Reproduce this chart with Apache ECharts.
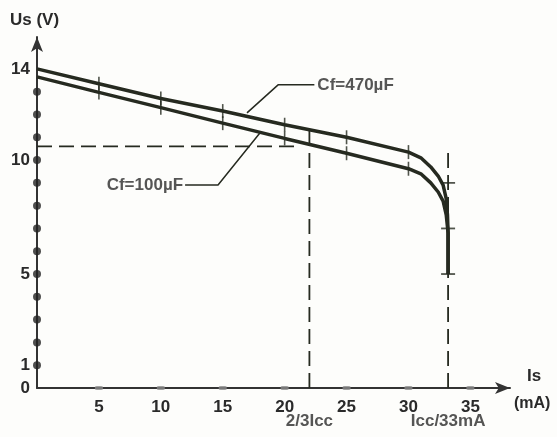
<!DOCTYPE html>
<html><head><meta charset="utf-8">
<script src="https://cdn.jsdelivr.net/npm/echarts/dist/echarts.min.js"></script>
<style>html,body{margin:0;padding:0;background:#fdfdfb}#c{width:557px;height:437px}</style>
</head><body><div id="c"></div>
<script>
// ---- data ----
const xTickLabels = [5, 10, 15, 20, 25, 30, 35];
const yTickLabels = [0, 1, 5, 10, 14];
const yDots = [1, 2, 3, 4, 5, 6, 7, 8, 9, 10, 11, 12, 13];
const cf470X = [0, 5, 10, 15, 20, 25, 30, 31, 31.8, 32.4, 32.8, 33.05, 33.15, 33.2, 33.2];
const cf470Y = [14.0, 13.35, 12.7, 12.15, 11.55, 11.0, 10.35, 10.1, 9.7, 9.3, 8.9, 8.3, 7.6, 6.8, 5.0];
const cf100X = [0, 5, 10, 15, 20, 25, 30, 31, 31.8, 32.4, 32.8, 33.05, 33.2, 33.2];
const cf100Y = [13.65, 12.97, 12.3, 11.62, 10.95, 10.3, 9.62, 9.4, 9.0, 8.6, 8.2, 7.6, 6.8, 5.0];
const curveTickX = [5, 10, 15, 20, 25, 30];
const iccX = 33.2;
const twoThirdIccX = 22;
const kneeLevel = 10.6;
const iccTicksY = [9, 7, 5];
const label470 = 'Cf=470µF';
const label100 = 'Cf=100µF';
const leader470 = [[16.96, 12.07], [19.47, 13.3], [22.4, 13.3]];
const leader100 = [[18.0, 11.19], [14.62, 8.91], [11.96, 8.91]];

const INK = '#262a20';
const TXT = '#2a2a2a';
const FONT = 'Liberation Sans, Arial, sans-serif';
const pairs = (xs, ys) => xs.map((x, i) => [x, ys[i]]);
const c470 = pairs(cf470X, cf470Y);
const c100 = pairs(cf100X, cf100Y);
const ticks470 = curveTickX.map(x => [x, cf470Y[cf470X.indexOf(x)]]);
const ticks100 = curveTickX.map(x => [x, cf100Y[cf100X.indexOf(x)]]);

const chart = echarts.init(document.getElementById('c'), null, {renderer: 'canvas'});
const dashed = {color: INK, width: 1.8, type: [15, 7]};
const txt = {color: TXT, fontSize: 17, fontFamily: FONT, fontWeight: 'bold'};
chart.setOption({
  animation: false,
  backgroundColor: '#fdfdfb',
  grid: {left: 37, right: 47, top: 37, bottom: 49},
  xAxis: {
    type: 'value', min: 0, max: 38.2, interval: 5,
    splitLine: {show: false}, axisTick: {show: false},
    axisLine: {lineStyle: {color: '#333', width: 2}, symbol: ['none', 'arrow'], symbolSize: [9, 15]},
    axisLabel: Object.assign({
      showMaxLabel: false, margin: 11,
      formatter: v => xTickLabels.includes(v) ? String(v) : ''
    }, txt)
  },
  yAxis: {
    type: 'value', min: 0, max: 15.4, interval: 1,
    splitLine: {show: false}, axisTick: {show: false},
    axisLine: {lineStyle: {color: '#333', width: 2}, symbol: ['none', 'arrow'], symbolSize: [9, 15]},
    axisLabel: Object.assign({
      showMaxLabel: false, margin: 7,
      formatter: v => yTickLabels.includes(v) ? String(v) : ''
    }, txt)
  },
  graphic: [
    {type: 'text', left: 10, top: 12, style: {text: 'Us (V)', fontSize: 17, fontWeight: 'bold', fontFamily: FONT, fill: TXT}},
    {type: 'text', left: 527, top: 368, style: {text: 'Is', fontSize: 17, fontWeight: 'bold', fontFamily: FONT, fill: TXT}},
    {type: 'text', left: 514, top: 396, style: {text: '(mA)', fontSize: 16, fontWeight: 'bold', fontFamily: FONT, fill: TXT}}
  ],
  series: [
    {type: 'line', data: [[0, kneeLevel], [21, kneeLevel]], symbol: 'none', lineStyle: dashed, z: 2},
    {type: 'line', data: [[twoThirdIccX, 0], [twoThirdIccX, 11.55]], symbol: 'none', lineStyle: dashed, z: 2},
    {type: 'line', data: [[iccX, 0], [iccX, kneeLevel]], symbol: 'none', lineStyle: dashed, z: 2},
    {type: 'line', data: c470, symbol: 'none', lineStyle: {color: INK, width: 3.5}, z: 3},
    {type: 'line', data: c100, symbol: 'none', lineStyle: {color: INK, width: 3.5}, z: 3},
    {type: 'line', data: leader470, symbol: 'none', lineStyle: {color: INK, width: 1.5}, z: 3},
    {type: 'line', data: leader100, symbol: 'none', lineStyle: {color: INK, width: 1.5}, z: 3},
    {type: 'scatter', data: ticks470.concat(ticks100), symbol: 'rect', symbolSize: [1.6, 14],
     itemStyle: {color: INK}, z: 4},
    {type: 'scatter', data: iccTicksY.map(y => [iccX, y]), symbol: 'rect', symbolSize: [14, 1.8],
     itemStyle: {color: INK}, z: 4},
    {type: 'scatter', data: yDots.map(y => [0, y]), symbol: 'circle', symbolSize: 8, clip: false,
     itemStyle: {color: '#222'}, z: 5},
    {type: 'scatter', data: xTickLabels.map(x => [x, 0]), symbol: 'roundRect', symbolSize: [8, 4], clip: false,
     itemStyle: {color: '#8a8a8a'}, z: 5},
    {type: 'scatter', symbolSize: 0, clip: false, z: 6,
     data: [
       {value: leader470[2], name: label470, label: {position: 'right', distance: 3}},
       {value: leader100[2], name: label100, label: {position: 'left', distance: 2}},
       {value: [twoThirdIccX, 0], name: '2/3Icc', label: {position: 'bottom', distance: 25}},
       {value: [iccX, 0], name: 'Icc/33mA', label: {position: 'bottom', distance: 25}}
     ],
     label: Object.assign({show: true, formatter: p => p.name}, txt)}
  ]
});
</script></body></html>
